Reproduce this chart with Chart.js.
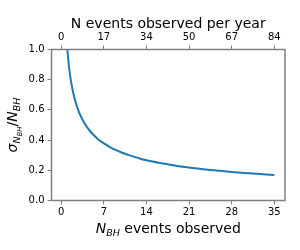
<!DOCTYPE html>
<html><head><meta charset="utf-8">
<script src="https://cdn.jsdelivr.net/npm/chart.js@4/dist/chart.umd.min.js"></script>
<style>html,body{margin:0;padding:0;background:#fff}#wrap{width:300px;height:250px;position:relative}</style>
</head><body><div id="wrap"><canvas id="c" width="300" height="250"></canvas></div>
<script>
// Data
const eventsObserved = [1, 1.25, 1.5, 1.75, 2, 2.5, 3, 3.5, 4, 4.5, 5, 6, 7, 8, 9, 10, 11, 12, 13, 14, 15, 16, 17, 19, 21, 23, 25, 28, 31, 35];
const relativeError = [1.0, 0.894, 0.816, 0.756, 0.707, 0.632, 0.577, 0.535, 0.5, 0.471, 0.447, 0.408, 0.378, 0.354, 0.333, 0.316, 0.302, 0.289, 0.277, 0.267, 0.258, 0.25, 0.243, 0.229, 0.218, 0.209, 0.2, 0.189, 0.18, 0.169];
const bottomTicks = [0, 7, 14, 21, 28, 35];
const topTickLabels = ['0', '17', '34', '50', '67', '84'];
const yTicks = [0.0, 0.2, 0.4, 0.6, 0.8, 1.0];

const FONT = "'DejaVu Sans', sans-serif";
const AXIS_GRAY = '#7f7f7f';

function drawRich(ctx, segs, x, y) {
  let total = 0;
  segs.forEach(s => { ctx.font = (s.italic ? 'italic ' : '') + s.size + 'px ' + FONT; s.w = ctx.measureText(s.t).width; total += s.w; });
  let cx = x - total / 2;
  ctx.textAlign = 'left';
  ctx.textBaseline = 'alphabetic';
  segs.forEach(s => { ctx.font = (s.italic ? 'italic ' : '') + s.size + 'px ' + FONT; ctx.fillText(s.t, cx, y + (s.dy || 0)); cx += s.w; });
}

const decor = {
  id: 'decor',
  afterDraw(chart) {
    const ctx = chart.ctx, a = chart.chartArea;
    ctx.save();
    ctx.strokeStyle = AXIS_GRAY;
    ctx.lineWidth = 1.5;
    ctx.strokeRect(a.left, a.top, a.right - a.left, a.bottom - a.top);
    ctx.fillStyle = '#000';
    drawRich(ctx, [{t: 'N events observed per year', size: 14}], (a.left + a.right) / 2, 28);
    drawRich(ctx, [
      {t: 'N', size: 14, italic: true},
      {t: 'BH', size: 9.5, italic: true, dy: 2.5},
      {t: ' events observed', size: 14}
    ], (a.left + a.right) / 2, 233);
    ctx.translate(17, (a.top + a.bottom) / 2);
    ctx.rotate(-Math.PI / 2);
    drawRich(ctx, [
      {t: 'σ', size: 14, italic: true},
      {t: 'N', size: 9.5, italic: true, dy: 3},
      {t: 'BH', size: 7, italic: true, dy: 5},
      {t: '/', size: 14},
      {t: 'N', size: 14, italic: true},
      {t: 'BH', size: 9.5, italic: true, dy: 2.5}
    ], 0, 0);
    ctx.restore();
  }
};

const gridCommon = {drawOnChartArea: false, drawTicks: true, tickLength: 4, color: AXIS_GRAY, lineWidth: 1};

new Chart(document.getElementById('c'), {
  type: 'line',
  data: {
    datasets: [{
      data: eventsObserved.map((x, i) => ({x: x, y: relativeError[i]})),
      borderColor: '#1f77b4',
      borderWidth: 2,
      pointRadius: 0,
      fill: false,
      cubicInterpolationMode: 'monotone',
      xAxisID: 'x',
      yAxisID: 'y'
    }]
  },
  options: {
    responsive: false,
    animation: false,
    layout: {padding: {left: 0, right: 15, top: 0, bottom: 0}},
    plugins: {legend: {display: false}, tooltip: {enabled: false}},
    scales: {
      x: {
        type: 'linear', position: 'bottom', min: -1.6, max: 36.75,
        afterBuildTicks: s => { s.ticks = bottomTicks.map(v => ({value: v})); },
        afterFit: s => { s.height = 49.5; },
        grid: gridCommon, border: {display: false},
        ticks: {color: '#000', font: {family: FONT, size: 10}, padding: 2, maxRotation: 0, autoSkip: false, callback: v => String(v)}
      },
      x2: {
        type: 'linear', position: 'top', min: -1.6, max: 36.75,
        afterBuildTicks: s => { s.ticks = bottomTicks.map(v => ({value: v})); },
        afterFit: s => { s.height = 49.5; },
        grid: gridCommon, border: {display: false},
        ticks: {color: '#000', font: {family: FONT, size: 10}, padding: 2, maxRotation: 0, autoSkip: false,
          callback: (v, i) => topTickLabels[i]}
      },
      y: {
        type: 'linear', position: 'left', min: 0, max: 1,
        afterBuildTicks: s => { s.ticks = yTicks.map(v => ({value: v})); },
        afterFit: s => { s.width = 51.5; },
        grid: gridCommon, border: {display: false},
        ticks: {color: '#000', font: {family: FONT, size: 10}, padding: 3, autoSkip: false, callback: v => v.toFixed(1)}
      }
    }
  },
  plugins: [decor]
});
</script></body></html>
